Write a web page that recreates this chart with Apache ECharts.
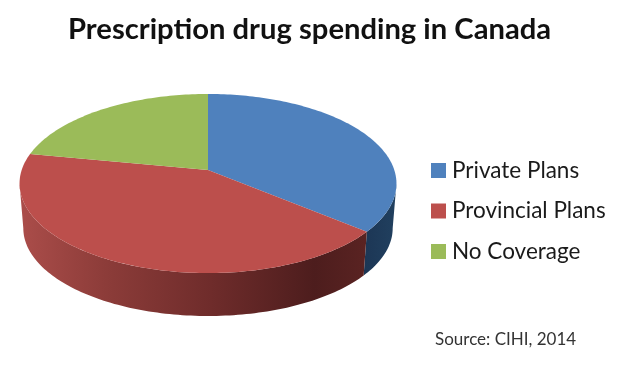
<!DOCTYPE html>
<html>
<head>
<meta charset="utf-8">
<style>
  html, body { margin: 0; padding: 0; background: #fff; }
  #chart { width: 620px; height: 367px; }
</style>
</head>
<body>
<div id="chart"></div>
<script src="https://cdn.jsdelivr.net/npm/echarts@6/dist/echarts.min.js"></script>
<script>
var categories = ['Private Plans', 'Provincial Plans', 'No Coverage']
var shares = [36, 42, 22] // percent

var topColors = ['#4f81bd', '#bc4f4c', '#9bbb59']
var total = shares.reduce(function(a, b) { return a + b }, 0)

// disc seen in perspective: apex is above the middle of the ellipse
var disc = { x: 208, y: 170, a: 186.3, b: 87.5, k: 0.151 }
var base = { x: 208, y: 215, scale: 0.98 }
var backLimit = Math.acos(-disc.k) // rim behind this angle is hidden by the top

function project(angle, o, scale) {
  var u = Math.sin(angle)
  var v = -Math.cos(angle)
  var w = 1 - disc.k * v
  return [o.x + scale * disc.a * u / w, o.y + scale * disc.b * v / w]
}

function arc(from, to, o, scale) {
  var pts = []
  var steps = Math.max(2, Math.ceil((to - from) / 0.02))
  for (var i = 0; i <= steps; i++) {
    pts.push(project(from + (to - from) * i / steps, o, scale))
  }
  return pts
}

function sideFill(index) {
  if (index === 0) {
    return new echarts.graphic.LinearGradient(0, 0, 1, 0, [
      { offset: 0, color: '#1c3655' },
      { offset: 1, color: '#21405f' }
    ])
  }
  return new echarts.graphic.LinearGradient(0, 0, 1, 0, [
    { offset: 0, color: '#ab4d4a' },
    { offset: 0.25, color: '#8c3c39' },
    { offset: 0.55, color: '#6f2c2b' },
    { offset: 0.85, color: '#4d1d1d' },
    { offset: 1, color: '#5a2322' }
  ])
}

function sliceRenderer(index) {
  return function() {
    var before = shares.slice(0, index).reduce(function(a, b) { return a + b }, 0)
    var from = before / total * Math.PI * 2
    var to = (before + shares[index]) / total * Math.PI * 2
    var children = []

    var sideFrom = Math.max(from, backLimit)
    var sideTo = Math.min(to, Math.PI * 2 - backLimit)
    if (sideTo > sideFrom) {
      var side = arc(sideFrom, sideTo, disc, 1)
        .concat(arc(sideFrom, sideTo, base, base.scale).reverse())
      children.push({
        type: 'polygon',
        shape: { points: side },
        style: { fill: sideFill(index) }
      })
    }

    children.push({
      type: 'polygon',
      shape: { points: [[disc.x, disc.y]].concat(arc(from, to, disc, 1)) },
      style: { fill: topColors[index] }
    })
    return { type: 'group', children: children }
  }
}

var chart = echarts.init(document.getElementById('chart'))

chart.setOption({
  animation: false,
  backgroundColor: '#fff',
  title: [
    {
      text: 'Prescription drug spending in Canada',
      left: 63,
      top: 10,
      textStyle: { fontFamily: 'Lato', fontWeight: 'bold', fontSize: 29.2, color: '#111' }
    },
    {
      text: 'Source: CIHI, 2014',
      left: 430,
      top: 326,
      textStyle: { fontFamily: 'Lato', fontWeight: 'normal', fontSize: 17, color: '#333' }
    }
  ],
  legend: {
    orient: 'vertical',
    left: 426,
    top: 154,
    icon: 'rect',
    itemWidth: 15,
    itemHeight: 15,
    itemGap: 17.5,
    selectedMode: false,
    textStyle: { fontFamily: 'Lato', fontSize: 22.5, color: '#1a1a1a', padding: [0, 0, 0, 1] },
    data: categories
  },
  series: categories.map(function(name, i) {
    return {
      name: name,
      type: 'custom',
      coordinateSystem: 'none',
      itemStyle: { color: topColors[i] },
      renderItem: sliceRenderer(i),
      data: [shares[i]]
    }
  })
})
</script>
</body>
</html>
